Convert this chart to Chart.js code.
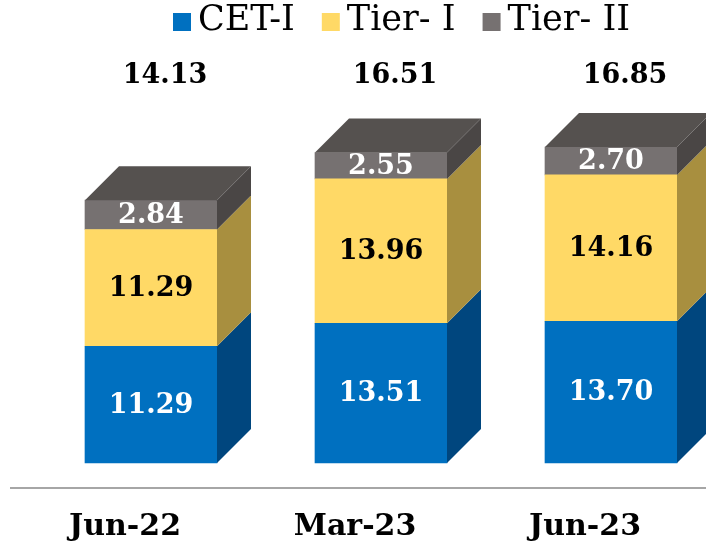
<!DOCTYPE html>
<html>
<head>
<meta charset="utf-8">
<script src="https://cdn.jsdelivr.net/npm/chart.js@4/dist/chart.umd.min.js"></script>
<style>
html,body{margin:0;padding:0;background:#fff;overflow:hidden;}
#wrap{width:706px;height:543px;}
</style>
</head>
<body>
<div id="wrap"><canvas id="grafico"></canvas></div>
<script>
const categorias=['Jun-22','Mar-23','Jun-23'];
const cet1=[11.29,13.51,13.70];
const tier1=[11.29,13.96,14.16];
const tier2=[2.84,2.55,2.70];
const totales=[14.13,16.51,16.85];

// front / side / top shades per series
const COLORES={
 cet1:{front:'#0070C0',side:'#00467E',text:'#ffffff'},
 tier1:{front:'#FFD966',side:'#A88F3F',text:'#000000'},
 tier2:{front:'#767171',side:'#4A4645',top:'#55514F',text:'#ffffff'}
};
const PROF=34; // depth of the 3d faces
const FUENTE='"DejaVu Serif", serif';

const pilas=categorias.map((_,i)=>cet1[i]+tier1[i]+tier2[i]);

// legend drawn by hand so box/text spacing can be tight
const leyenda={
 id:'leyenda',
 afterDraw(chart){
  const ctx=chart.ctx;
  ctx.save();
  ctx.font='35px '+FUENTE;
  ctx.textBaseline='middle';ctx.textAlign='left';
  const caja=18,gap=7,sep=27;
  let x=173;
  chart.data.datasets.forEach(ds=>{
   ctx.fillStyle=ds.backgroundColor;
   ctx.fillRect(x,13,caja,caja);
   ctx.fillStyle='#000';
   ctx.fillText(ds.label,x+caja+gap,21);
   x+=caja+gap+ctx.measureText(ds.label).width+sep;
  });
  ctx.restore();
 }
};

const barras3d={
 id:'barras3d',
 afterDatasetsDraw(chart){
  const ctx=chart.ctx;
  const n=chart.data.datasets.length;
  ctx.save();
  chart.data.datasets.forEach((ds,di)=>{
   const meta=chart.getDatasetMeta(di);
   meta.data.forEach(el=>{
    const {x,y,base,width}=el.getProps(['x','y','base','width'],true);
    const l=x-width/2, r=x+width/2;
    ctx.fillStyle=ds.sideColor;
    ctx.beginPath();
    ctx.moveTo(r,y);ctx.lineTo(r+PROF,y-PROF);ctx.lineTo(r+PROF,base-PROF);ctx.lineTo(r,base);
    ctx.closePath();ctx.fill();
    if(di===n-1){
     ctx.fillStyle=ds.topColor;
     ctx.beginPath();
     ctx.moveTo(l,y);ctx.lineTo(l+PROF,y-PROF);ctx.lineTo(r+PROF,y-PROF);ctx.lineTo(r,y);
     ctx.closePath();ctx.fill();
    }
   });
  });
  // value labels inside each segment
  ctx.textAlign='center';ctx.textBaseline='middle';
  ctx.font='bold 27px '+FUENTE;
  chart.data.datasets.forEach((ds,di)=>{
   chart.getDatasetMeta(di).data.forEach((el,i)=>{
    const {x,y,base}=el.getProps(['x','y','base'],true);
    ctx.fillStyle=ds.textColor;
    ctx.fillText(ds.data[i].toFixed(2),x,(y+base)/2+1);
   });
  });
  // totals row
  const xs=chart.scales.x;
  ctx.fillStyle='#000';
  totales.forEach((t,i)=>{
   ctx.fillText(t.toFixed(2),xs.getPixelForValue(i)+PROF/2-3,76);
  });
  // baseline rule under the bars
  const yb=chart.scales.y.getPixelForValue(0)+25;
  ctx.strokeStyle='#A6A6A6';ctx.lineWidth=2;
  ctx.beginPath();ctx.moveTo(10,yb);ctx.lineTo(706,yb);ctx.stroke();
  ctx.restore();
 }
};

new Chart(document.getElementById('grafico'),{
 type:'bar',
 data:{
  labels:categorias,
  datasets:[
   {label:'CET-I',data:cet1,backgroundColor:COLORES.cet1.front,sideColor:COLORES.cet1.side,textColor:COLORES.cet1.text,borderWidth:0},
   {label:'Tier- I',data:tier1,backgroundColor:COLORES.tier1.front,sideColor:COLORES.tier1.side,textColor:COLORES.tier1.text,borderWidth:0},
   {label:'Tier- II',data:tier2,backgroundColor:COLORES.tier2.front,sideColor:COLORES.tier2.side,topColor:COLORES.tier2.top,textColor:COLORES.tier2.text,borderWidth:0}
  ]
 },
 options:{
  responsive:true,
  maintainAspectRatio:false,
  animation:false,
  barThickness:132,
  clip:false,
  layout:{padding:{left:151,right:95,top:147,bottom:-8}},
  plugins:{
   legend:{display:false},
   tooltip:{enabled:false}
  },
  scales:{
   x:{
    stacked:true,
    offset:false,
    grid:{display:false,offset:false,drawTicks:true,tickLength:40},
    border:{display:false},
    ticks:{color:'#000',padding:6,labelOffset:-26,font:{family:FUENTE,size:30,weight:'bold'}}
   },
   y:{
    stacked:true,
    display:false,
    min:0,
    max:Math.max(...pilas)
   }
  }
 },
 plugins:[barras3d,leyenda]
});
</script>
</body>
</html>
